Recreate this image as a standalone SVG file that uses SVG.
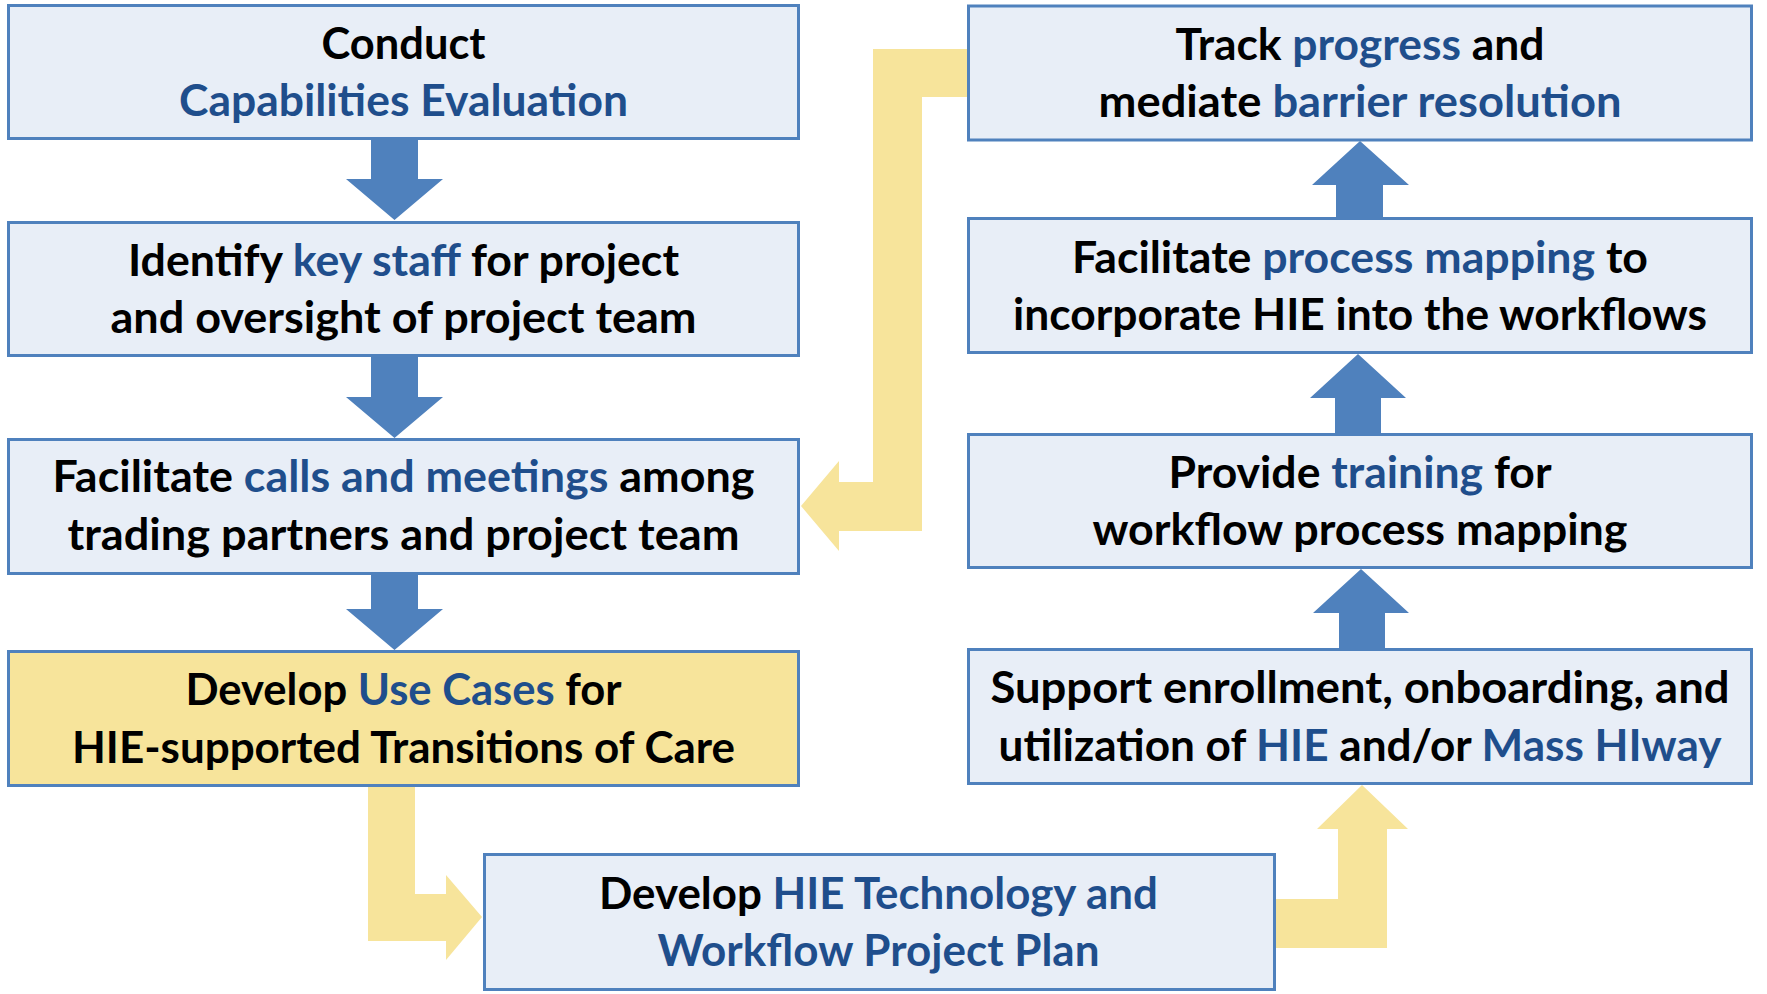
<svg xmlns="http://www.w3.org/2000/svg" width="1767" height="994" viewBox="0 0 1767 994">
<style>
.box{fill:#E8EEF7;stroke:#4F81BD;stroke-width:3}
.ybox{fill:#F7E49B;stroke:#4F81BD;stroke-width:3}
.blue{fill:#4F81BD}
.yel{fill:#F7E49B}
text{font-family:Lato,"Liberation Sans",sans-serif;font-weight:bold;font-size:44px;fill:#000;text-anchor:middle}
.b{fill:#1F4E8C}
</style>
<rect width="1767" height="994" fill="#fff"/>
<g id="connectors">
<polygon class="blue" points="371,139 418,139 418,179 443,179 394.5,220 346,179 371,179"/>
<polygon class="blue" points="371,357 418,357 418,397 443,397 394.5,438 346,397 371,397"/>
<polygon class="blue" points="371,575 418,575 418,609 443,609 394.5,650 346,609 371,609"/>
<polygon class="blue" points="1336,218 1383,218 1383,185 1409,185 1360,141 1312,185 1336,185"/>
<polygon class="blue" points="1335,433 1381,433 1381,398 1406,398 1358,354 1310,398 1335,398"/>
<polygon class="blue" points="1339,648 1385,648 1385,613 1409,613 1361,569 1313,613 1339,613"/>
<polygon class="yel" points="975,49 975,97 922,97 922,531 839,531 839,551 801,506 839,461 839,482 873,482 873,49"/>
<polygon class="yel" points="368,780 415,780 415,894 446,894 446,875 482,917 446,960 446,941 368,941"/>
<polygon class="yel" points="1270,899 1338,899 1338,829 1317,829 1362,785 1408,829 1387,829 1387,948 1270,948"/>
</g>
<g id="n1">
<rect class="box" x="8.5" y="5.5" width="790" height="133"/>
<text x="403.5" y="58.5" textLength="164" lengthAdjust="spacingAndGlyphs">Conduct</text>
<text x="403.5" y="116" textLength="449" lengthAdjust="spacingAndGlyphs" class="b">Capabilities Evaluation</text>
</g>
<g id="n2">
<rect class="box" x="8.5" y="222.5" width="790" height="133"/>
<text x="403.5" y="275.5" textLength="551" lengthAdjust="spacingAndGlyphs">Identify <tspan class="b">key staff</tspan> for project</text>
<text x="403.5" y="332.5" textLength="586" lengthAdjust="spacingAndGlyphs">and oversight of project team</text>
</g>
<g id="n3">
<rect class="box" x="8.5" y="439.5" width="790" height="134"/>
<text x="403.5" y="492" textLength="702" lengthAdjust="spacingAndGlyphs">Facilitate <tspan class="b">calls and meetings</tspan> among</text>
<text x="403.5" y="550" textLength="672" lengthAdjust="spacingAndGlyphs">trading partners and project team</text>
</g>
<g id="n4">
<rect class="ybox" x="8.5" y="651.5" width="790" height="134"/>
<text x="403.5" y="705" textLength="436" lengthAdjust="spacingAndGlyphs">Develop <tspan class="b">Use Cases</tspan> for</text>
<text x="403.5" y="763" textLength="663" lengthAdjust="spacingAndGlyphs">HIE-supported Transitions of Care</text>
</g>
<g id="n5">
<rect class="box" x="484.5" y="854.5" width="790" height="135"/>
<text x="878.5" y="909" textLength="559" lengthAdjust="spacingAndGlyphs">Develop <tspan class="b">HIE Technology and</tspan></text>
<text x="878.5" y="966" textLength="442" lengthAdjust="spacingAndGlyphs" class="b">Workflow Project Plan</text>
</g>
<g id="n6">
<rect class="box" x="968.5" y="649.5" width="783" height="134"/>
<text x="1360" y="703" textLength="739" lengthAdjust="spacingAndGlyphs">Support enrollment, onboarding, and</text>
<text x="1360" y="761" textLength="723" lengthAdjust="spacingAndGlyphs">utilization of <tspan class="b">HIE</tspan> and/or <tspan class="b">Mass HIway</tspan></text>
</g>
<g id="n7">
<rect class="box" x="968.5" y="434.5" width="783" height="133"/>
<text x="1360" y="488" textLength="383" lengthAdjust="spacingAndGlyphs">Provide <tspan class="b">training</tspan> for</text>
<text x="1360" y="545" textLength="535" lengthAdjust="spacingAndGlyphs">workflow process mapping</text>
</g>
<g id="n8">
<rect class="box" x="968.5" y="218.5" width="783" height="134"/>
<text x="1360" y="273" textLength="576" lengthAdjust="spacingAndGlyphs">Facilitate <tspan class="b">process mapping</tspan> to</text>
<text x="1360" y="330" textLength="694" lengthAdjust="spacingAndGlyphs">incorporate HIE into the workflows</text>
</g>
<g id="n9">
<rect class="box" x="968.5" y="6" width="783" height="134"/>
<text x="1360" y="60" textLength="369" lengthAdjust="spacingAndGlyphs">Track <tspan class="b">progress</tspan> and</text>
<text x="1360" y="117" textLength="523" lengthAdjust="spacingAndGlyphs">mediate <tspan class="b">barrier resolution</tspan></text>
</g>
</svg>
